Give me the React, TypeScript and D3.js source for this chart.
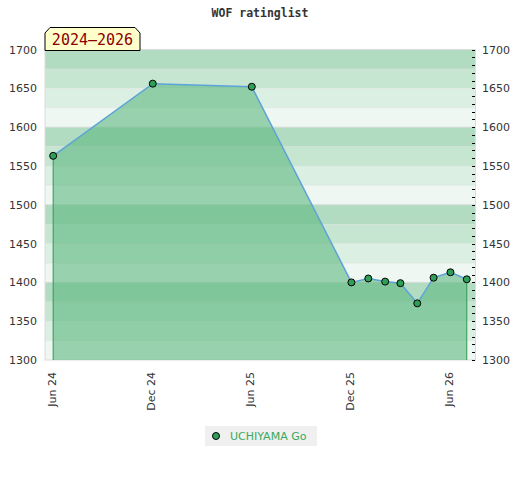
import React from "react";
import * as d3 from "d3";

const title = "WOF ratinglist";
const periodLabel = "2024–2026";
const playerName = "UCHIYAMA Go";

const pointDates = [
  "2024-06-01", "2024-12-01", "2025-06-01", "2025-12-01", "2026-01-01",
  "2026-02-01", "2026-03-01", "2026-04-01", "2026-05-01", "2026-06-01", "2026-07-01",
];
const ratings = [1563, 1656, 1652, 1400, 1405, 1401, 1399, 1373, 1406, 1413, 1404];

const xTickDates = ["2024-06-01", "2024-12-01", "2025-06-01", "2025-12-01", "2026-06-01"];
const xTickLabels = ["Jun 24", "Dec 24", "Jun 25", "Dec 25", "Jun 26"];
const yTicks = [1300, 1350, 1400, 1450, 1500, 1550, 1600, 1650, 1700];
const yDomain = [1300, 1700];
const xDomain = ["2024-05-17", "2026-07-17"];

const bandColors = ["#b2dcc1", "#c7e6d2", "#dbefe2", "#eef7f1"];

export default function App() {
  const W = 520, H = 480;
  const left = 45, right = 475.5, top = 49.5, bottom = 360;
  const parse = (s: string) => new Date(s + "T00:00:00Z");
  const x = d3.scaleUtc().domain(xDomain.map(parse)).range([left, right]);
  const y = d3.scaleLinear().domain(yDomain).range([bottom, top]);

  const pts = pointDates.map((d, i) => ({ d: parse(d), v: ratings[i] }));
  const line = d3.line<any>().x((p) => x(p.d)).y((p) => y(p.v));
  const area = d3.area<any>().x((p) => x(p.d)).y0(bottom).y1((p) => y(p.v));

  const bands: { y0: number; y1: number; c: string }[] = [];
  for (let v = yDomain[1], i = 0; v > yDomain[0]; v -= 25, i++) {
    bands.push({ y0: y(v), y1: y(v - 25), c: bandColors[i % 4] });
  }
  const minorTicks = d3.range(yDomain[0], yDomain[1] + 1, 10);
  const first = pts[0], last = pts[pts.length - 1];

  return (
    <svg width={W} height={H} style={{ display: "block", position: "absolute", left: 0, top: 0 }}>
      <rect width={W} height={H} fill="#fff" />
      <text x={260} y={17} textAnchor="middle" fontFamily="DejaVu Sans Mono" fontWeight="bold" fontSize={11.5} fill="#333">{title}</text>
      {bands.map((b, i) => (
        <rect key={i} x={left} y={b.y0} width={right - left} height={b.y1 - b.y0} fill={b.c} />
      ))}
      {bands.map((b, i) => (
        <line key={"l" + i} x1={left} x2={right} y1={b.y0} y2={b.y0} stroke="#d8d8d8" strokeOpacity={i % 4 === 0 ? 0.9 : 0.35} />
      ))}
      <rect x={left} y={top} width={right - left} height={bottom - top} fill="none" stroke="#dcdcdc" />
      <path d={area(pts) || ""} fill="rgb(94,184,128)" fillOpacity={0.6} />
      <line x1={x(first.d)} x2={x(first.d)} y1={y(first.v)} y2={bottom} stroke="#2e9a52" strokeWidth={1} />
      <line x1={x(last.d)} x2={x(last.d)} y1={y(last.v)} y2={bottom} stroke="#2e9a52" strokeWidth={1} />
      <path d={line(pts) || ""} fill="none" stroke="#5ea3d8" strokeWidth={1.5} />
      {pts.map((p, i) => (
        <circle key={i} cx={x(p.d)} cy={y(p.v)} r={3.5} fill="#2f9e57" stroke="#000" strokeWidth={1} />
      ))}
      {minorTicks.map((t) => (
        <line key={t} x1={right - 3.5} x2={right - 0.5} y1={Math.round(y(t)) + 0.5} y2={Math.round(y(t)) + 0.5} stroke="#000" />
      ))}
      {yTicks.map((t) => (
        <g key={t} fontFamily="DejaVu Sans" fontSize={11} fill="#333">
          <text x={37} y={y(t) + 4} textAnchor="end">{t}</text>
          <text x={482} y={y(t) + 4} textAnchor="start">{t}</text>
        </g>
      ))}
      {xTickDates.map((d, i) => (
        <text key={d} transform={`translate(${x(parse(d)) + 2.5},${372}) rotate(-90)`} textAnchor="end" fontFamily="DejaVu Sans" fontSize={11} fill="#333">{xTickLabels[i]}</text>
      ))}
      <path d={`M${left},${top + 1} L${left},33 L50,27.5 L135,27.5 L140,33 L140,${top + 1} Z`} fill="#ffffcc" stroke="#000" strokeWidth={1} />
      <text x={92.5} y={45} textAnchor="middle" fontFamily="DejaVu Sans Mono" fontSize={15} fill="#8b0000">{periodLabel}</text>
      <rect x={205} y={426} width={112} height={20} fill="#f0f0f0" />
      <circle cx={216} cy={436} r={3.5} fill="#2f9e57" stroke="#000" />
      <text x={230} y={440} fontFamily="DejaVu Sans" fontSize={11} fill="#3aaa5e">{playerName}</text>
    </svg>
  );
}
